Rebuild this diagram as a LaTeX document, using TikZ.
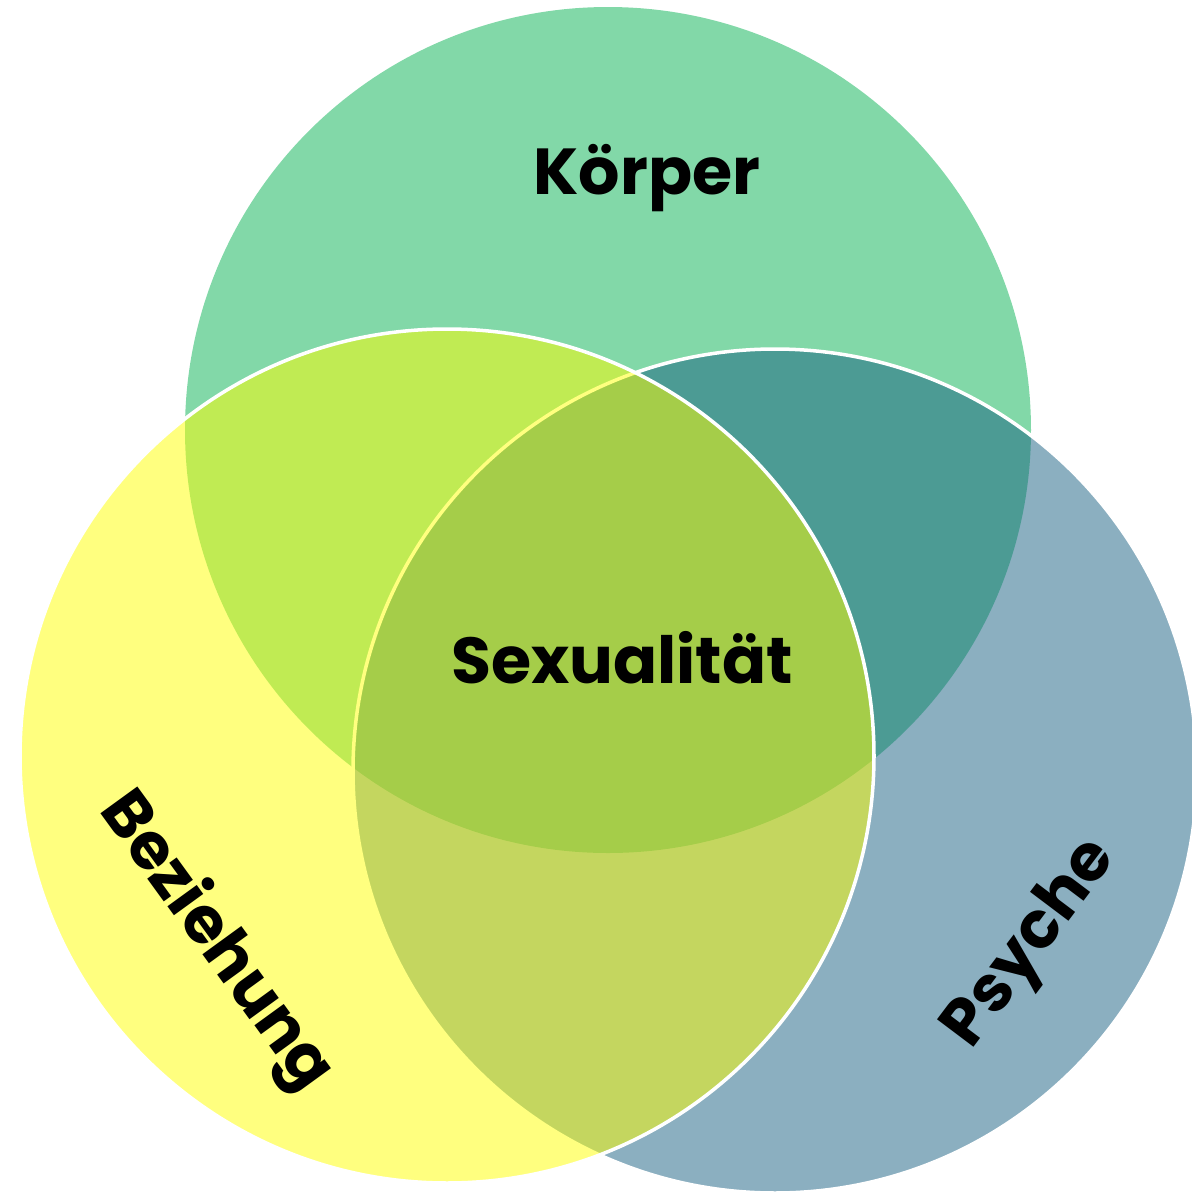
\documentclass[tikz,border=0pt]{standalone}
\usepackage{fontspec}
\setmainfont{Poppins}
\usetikzlibrary{math}
\definecolor{koerpergreen}{RGB}{130,216,168}
\definecolor{psycheblue}{RGB}{23,95,129}
\definecolor{bezyellow}{RGB}{255,255,0}

\begin{document}
\begin{tikzpicture}

\tikzmath{
\s = .01;
}

\tikzset{
lab/.style={font=\fontsize{18.5}{22}\selectfont\bfseries, inner sep=0pt},
ring/.style={draw=white, line width=1pt, fill opacity=.5}
}

\useasboundingbox (0,0) rectangle (1192*\s,-1193*\s);

\coordinate (koerper) at (608*\s,-430*\s);
\coordinate (psyche) at (775*\s,-771*\s);
\coordinate (beziehung) at (447*\s,-756*\s);

\fill[koerpergreen] (koerper) circle (423*\s);
\filldraw[ring, fill=psycheblue] (psyche) circle (422*\s);
\filldraw[ring, fill=bezyellow] (beziehung) circle (427*\s);

\node[lab] (k) at (647*\s,-178*\s) {Körper};
\node[lab] (sx) at (622*\s,-658*\s) {Sexualität};
\node[lab, rotate=-54] (b) at (215*\s,-942*\s) {Beziehung};
\node[lab, rotate=53] (p) at (1032*\s,-945*\s) {Psyche};

\end{tikzpicture}
\end{document}
